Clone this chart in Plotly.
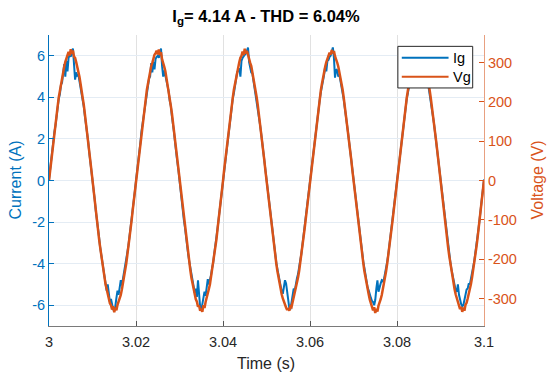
import numpy as np
import plotly.graph_objects as go

# ---------------- data ----------------
dt = 0.00025  # sampling step (s)
t_start = 3.0

current_c1 = [0.05, 0.55, 1.0, 1.3, 1.9, 2.35, 2.65, 3.2, 3.45, 3.95, 4.15, 4.6, 4.7, 5.05, 5.6, 5.0, 5.75, 5.25, 5.9, 6.05,
              5.95, 6.2, 6.35, 5.6, 4.85, 5.2, 5.05, 5.1, 4.8, 4.55, 4.3, 3.85, 3.55, 3.1, 2.75, 2.25, 1.9, 1.35, 0.95, 0.5,
              -0.05, -0.5, -0.9, -1.45, -1.8, -2.35, -2.7, -3.2, -3.5, -3.95, -4.3, -4.6, -4.95, -5.3, -5.0, -5.45, -5.85, -5.7, -6.0, -6.2,
              -6.25, -6.05, -5.65, -5.3, -5.5, -5.1, -4.8, -5.05, -4.75, -4.5, -4.2, -3.9, -3.5, -3.15, -2.7, -2.3, -1.85, -1.4, -0.9, -0.5]
current_c2 = [0.0, 0.4, 1.0, 1.45, 1.8, 2.35, 2.75, 3.1, 3.55, 3.85, 4.25, 4.5, 4.9, 5.0, 5.65, 5.2, 5.7, 5.35, 5.85, 5.95,
              6.0, 5.9, 6.1, 6.35, 5.5, 5.0, 5.3, 5.05, 4.85, 4.5, 4.3, 3.85, 3.6, 3.1, 2.75, 2.3, 1.8, 1.45, 0.9, 0.5,
              -0.05, -0.45, -0.95, -1.4, -1.9, -2.25, -2.75, -3.1, -3.55, -3.9, -4.2, -4.6, -4.85, -5.15, -5.4, -5.2, -5.6, -4.8, -5.7, -6.1,
              -6.25, -6.0, -5.6, -5.35, -5.55, -5.0, -4.75, -5.0, -4.8, -4.55, -4.2, -3.95, -3.5, -3.15, -2.7, -2.3, -1.85, -1.4, -0.95, -0.45]
current_c3 = [0.05, 0.5, 0.95, 1.35, 1.9, 2.3, 2.7, 3.15, 3.5, 3.95, 4.2, 4.55, 4.85, 5.2, 5.3, 5.4, 5.0, 5.75, 5.9, 6.0,
              6.05, 6.1, 6.3, 6.4, 5.7, 5.4, 5.2, 5.15, 4.8, 4.6, 4.2, 3.95, 3.5, 3.15, 2.7, 2.3, 1.85, 1.4, 0.95, 0.45,
              0.0, -0.5, -0.9, -1.4, -1.85, -2.35, -2.7, -3.15, -3.5, -3.95, -4.25, -4.55, -4.9, -5.1, -5.35, -5.45, -5.2, -4.8, -4.95, -5.4,
              -5.8, -6.15, -6.2, -5.8, -5.5, -5.2, -5.3, -4.85, -4.7, -4.5, -4.25, -3.85, -3.55, -3.1, -2.75, -2.25, -1.9, -1.4, -0.9, -0.5]
current_c4 = [0.05, 0.45, 0.95, 1.45, 1.85, 2.3, 2.75, 3.1, 3.55, 3.9, 4.25, 4.5, 4.9, 5.1, 5.5, 5.25, 5.75, 5.8, 5.95, 6.0,
              6.2, 6.4, 5.9, 4.95, 5.35, 5.3, 5.0, 5.1, 4.8, 4.55, 4.25, 3.9, 3.5, 3.15, 2.7, 2.3, 1.85, 1.4, 0.95, 0.5,
              -0.05, -0.5, -0.95, -1.4, -1.85, -2.3, -2.75, -3.1, -3.55, -3.9, -4.2, -4.6, -4.75, -5.15, -5.3, -5.55, -5.65, -5.8, -5.85, -6.0,
              -5.75, -5.2, -4.8, -5.35, -5.1, -4.95, -4.8, -4.85, -4.75, -4.5, -4.25, -3.9, -3.55, -3.1, -2.7, -2.3, -1.85, -1.4, -0.95, -0.45]
current_c5 = [0.0, 0.5, 0.95, 1.4, 1.85, 2.3, 2.7, 3.15, 3.5, 3.95, 4.2, 4.6, 4.85, 5.05, 5.5, 5.1, 5.7, 5.3, 5.9, 6.0,
              6.1, 6.3, 5.8, 5.0, 5.3, 5.25, 5.05, 5.1, 4.85, 4.5, 4.3, 3.85, 3.55, 3.1, 2.75, 2.3, 1.85, 1.4, 0.9, 0.5,
              -0.05, -0.45, -0.95, -1.4, -1.85, -2.35, -2.7, -3.15, -3.5, -3.9, -4.25, -4.55, -4.9, -5.15, -5.3, -5.35, -5.0, -5.5, -5.75, -5.95,
              -6.05, -6.0, -5.75, -5.45, -5.25, -5.2, -4.95, -5.0, -4.75, -4.55, -4.2, -3.9, -3.5, -3.15, -2.7, -2.3, -1.85, -1.35, -0.95, -0.5]
current_end = [0.05]

voltage_c1 = [0, 26, 50, 76, 101, 124, 147, 171, 190, 212, 229, 248, 262, 278, 289, 302, 311, 319, 327, 318,
              334, 322, 331, 315, 312, 301, 290, 276, 264, 246, 231, 210, 192, 169, 148, 125, 99, 77, 50, 26,
              -1, -25, -51, -75, -100, -125, -148, -169, -191, -210, -231, -246, -264, -276, -291, -301, -312, -317, -328, -320,
              -335, -323, -330, -316, -308, -299, -291, -277, -262, -248, -229, -212, -190, -171, -147, -124, -101, -75, -52, -25]
voltage_c2 = [1, 25, 52, 75, 100, 125, 148, 169, 192, 210, 231, 246, 264, 276, 291, 299, 310, 320, 324, 330,
              321, 333, 319, 326, 308, 301, 289, 278, 262, 248, 229, 212, 190, 171, 147, 124, 101, 75, 51, 24,
              0, -26, -50, -77, -99, -124, -149, -170, -190, -212, -229, -248, -262, -278, -289, -302, -308, -321, -318, -331,
              -326, -334, -317, -324, -309, -300, -290, -276, -264, -246, -231, -210, -192, -169, -149, -123, -101, -76, -50, -26]
voltage_c3 = [-1, 26, 51, 76, 99, 125, 147, 170, 191, 211, 231, 247, 262, 278, 289, 301, 312, 317, 328, 319,
              335, 323, 330, 317, 309, 299, 291, 276, 264, 247, 229, 211, 191, 170, 148, 125, 100, 75, 51, 25,
              0, -25, -51, -76, -101, -124, -147, -171, -190, -211, -230, -247, -263, -277, -290, -300, -310, -318, -323, -329,
              -325, -331, -320, -322, -310, -300, -289, -277, -263, -247, -230, -211, -191, -170, -148, -124, -100, -76, -51, -25]
voltage_c4 = [1, 25, 50, 77, 100, 124, 148, 170, 190, 212, 230, 246, 263, 277, 290, 301, 309, 318, 325, 320,
              332, 324, 329, 316, 310, 300, 290, 277, 262, 247, 231, 211, 190, 170, 148, 124, 100, 76, 51, 25,
              0, -26, -51, -75, -100, -125, -148, -170, -191, -210, -230, -248, -262, -278, -290, -303, -313, -320, -330, -322,
              -337, -326, -333, -318, -312, -302, -291, -277, -263, -246, -230, -211, -191, -170, -147, -124, -100, -76, -51, -25]
voltage_c5 = [0, 26, 51, 75, 100, 125, 147, 170, 191, 211, 229, 247, 263, 277, 290, 300, 310, 318, 324, 329,
              325, 330, 320, 322, 309, 301, 290, 277, 263, 247, 230, 211, 191, 169, 148, 124, 100, 76, 50, 25,
              0, -25, -51, -76, -100, -124, -148, -170, -191, -211, -230, -247, -263, -277, -290, -301, -311, -319, -327, -321,
              -334, -323, -331, -316, -311, -300, -290, -277, -263, -247, -230, -211, -191, -170, -148, -124, -100, -76, -51, -26]
voltage_end = [1]

x_ticks = [3.0, 3.02, 3.04, 3.06, 3.08, 3.1]
x_tick_labels = ["3", "3.02", "3.04", "3.06", "3.08", "3.1"]
left_ticks = [-6, -4, -2, 0, 2, 4, 6]
left_tick_labels = ["-6", "-4", "-2", "0", "2", "4", "6"]
right_ticks = [-300, -200, -100, 0, 100, 200, 300]
right_tick_labels = ["-300", "-200", "-100", "0", "100", "200", "300"]

current = current_c1 + current_c2 + current_c3 + current_c4 + current_c5 + current_end
voltage = voltage_c1 + voltage_c2 + voltage_c3 + voltage_c4 + voltage_c5 + voltage_end
t_cur = t_start + np.arange(len(current)) * dt
t_vol = t_start + np.arange(len(voltage)) * dt

# ---------------- style ----------------
BLUE = "#0072BD"
ORANGE = "#D95319"
DARK = "#262626"
FONT = "Liberation Sans, Arial, sans-serif"
W, H = 547, 379
ML, MR, MT, MB = 49, 63, 35, 53

fig = go.Figure()
fig.add_trace(go.Scatter(x=t_cur, y=current, mode="lines", name="Ig",
                         line=dict(color=BLUE, width=2), yaxis="y", showlegend=False))
fig.add_trace(go.Scatter(x=t_vol, y=voltage, mode="lines", name="Vg",
                         line=dict(color=ORANGE, width=2.5), yaxis="y2", showlegend=False))

fig.update_layout(
    width=W, height=H,
    margin=dict(l=ML, r=MR, t=MT, b=MB, autoexpand=False),
    paper_bgcolor="white", plot_bgcolor="white",
    font=dict(family=FONT, size=14.5, color=DARK),
    title=dict(text="<b>I<sub>g</sub>= 4.14 A - THD = 6.04%</b>", x=266 / W, xanchor="center",
               y=1 - 16 / H, yanchor="middle", font=dict(size=16.5, color="black", family=FONT)),
    xaxis=dict(range=[3.0, 3.1], tickvals=x_ticks, ticktext=x_tick_labels, automargin=False,
               showgrid=True, gridcolor="#E1E1E1", gridwidth=1, zeroline=False,
               showline=True, linecolor="#7A7A7A", linewidth=1,
               ticks="inside", ticklen=5, tickcolor="#555555", ticklabelstandoff=3,
               tickfont=dict(size=14.5, color=DARK)),
    yaxis=dict(range=[-7, 7], tickvals=left_ticks, ticktext=left_tick_labels, automargin=False,
               showgrid=True, gridcolor="#E4ECF4", gridwidth=1,
               zeroline=False, showline=True, linecolor=BLUE, linewidth=1,
               ticks="inside", ticklen=5, tickcolor=BLUE,
               tickfont=dict(size=14.5, color=BLUE)),
    yaxis2=dict(range=[-370, 370], tickvals=right_ticks, ticktext=right_tick_labels, automargin=False,
                overlaying="y", side="right",
                showgrid=False, zeroline=False, showline=True, linecolor="#E8A080", linewidth=1,
                ticks="inside", ticklen=5, tickcolor=ORANGE,
                tickfont=dict(size=14.5, color=ORANGE)),
)

# axis titles
fig.add_annotation(xref="paper", yref="paper", x=(266 - ML) / (W - ML - MR), y=-(363 - (H - MB)) / (H - MT - MB),
                   text="Time (s)", showarrow=False, xanchor="center", yanchor="middle",
                   font=dict(size=16, color=DARK, family=FONT))
fig.add_annotation(xref="paper", yref="paper", x=-(ML - 15) / (W - ML - MR), y=0.5,
                   text="Current (A)", showarrow=False, textangle=-90, xanchor="center", yanchor="middle",
                   font=dict(size=16, color=BLUE, family=FONT))
fig.add_annotation(xref="paper", yref="paper", x=1 + (537 - (W - MR)) / (W - ML - MR), y=0.5,
                   text="Voltage (V)", showarrow=False, textangle=-90, xanchor="center", yanchor="middle",
                   font=dict(size=16, color=ORANGE, family=FONT))

# legend box (drawn in paper coordinates)
fig.add_shape(type="rect", xref="paper", yref="paper", x0=0.802, x1=0.974, y0=0.818, y1=0.961,
              line=dict(color=DARK, width=1), fillcolor="white", layer="above")
fig.add_shape(type="line", xref="paper", yref="paper", x0=0.811, x1=0.9185, y0=0.922, y1=0.922,
              line=dict(color=BLUE, width=2), layer="above")
fig.add_shape(type="line", xref="paper", yref="paper", x0=0.811, x1=0.9185, y0=0.8566, y1=0.8566,
              line=dict(color=ORANGE, width=2), layer="above")
fig.add_annotation(xref="paper", yref="paper", x=0.925, y=0.922, text="Ig", showarrow=False,
                   xanchor="left", yanchor="middle", font=dict(size=14.5, color="black", family=FONT))
fig.add_annotation(xref="paper", yref="paper", x=0.925, y=0.8566, text="Vg", showarrow=False,
                   xanchor="left", yanchor="middle", font=dict(size=14.5, color="black", family=FONT))

fig.write_html("out.html", config={"displayModeBar": False},
               post_script="document.body.style.margin='0';document.body.style.padding='0';")
